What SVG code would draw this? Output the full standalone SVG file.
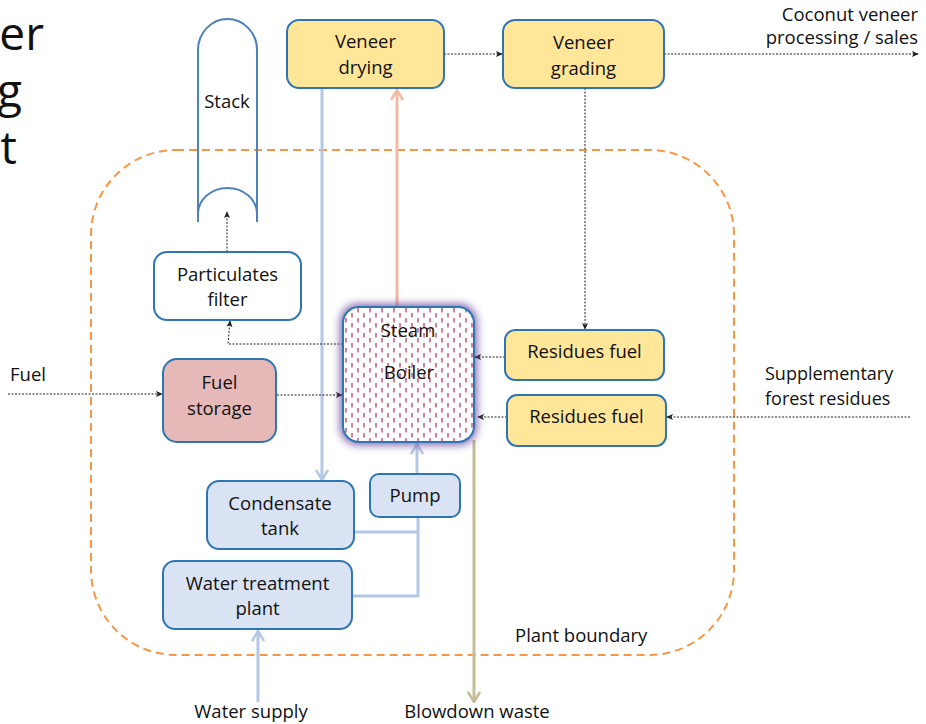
<svg xmlns="http://www.w3.org/2000/svg" width="926" height="724" viewBox="0 0 926 724">
<defs>
<style>
text{font-family:"Open Sans","Noto Sans","DejaVu Sans",sans-serif;font-size:18.5px;fill:#111;}
.c{text-anchor:middle;}
.title{font-size:46px;text-anchor:end;}
.box{stroke:#2e75b6;stroke-width:2;}
.yel{fill:#ffe699;}
.lb{fill:#dae3f3;}
.dot{fill:none;stroke:#222;stroke-width:1;stroke-dasharray:2 1.5;marker-end:url(#ah);}
.thick{fill:none;stroke-width:3;}
.blue{stroke:#b4c7e7;}
</style>
<marker id="ah" viewBox="0 0 8 8" refX="7" refY="4" markerWidth="7" markerHeight="7" markerUnits="userSpaceOnUse" orient="auto">
<path d="M0,0.5 L8,4 L0,7.5 L2,4 Z" fill="#222"/>
</marker>
<marker id="ob" viewBox="0 0 12 14" refX="11" refY="7" markerWidth="12" markerHeight="14" markerUnits="userSpaceOnUse" orient="auto">
<path d="M1,1 L11,7 L1,13" fill="none" stroke="#b4c7e7" stroke-width="2.5"/>
</marker>
<marker id="os" viewBox="0 0 12 14" refX="11" refY="7" markerWidth="12" markerHeight="14" markerUnits="userSpaceOnUse" orient="auto">
<path d="M1,1 L11,7 L1,13" fill="none" stroke="#f4b8a0" stroke-width="2.5"/>
</marker>
<marker id="ok" viewBox="0 0 12 14" refX="11" refY="7" markerWidth="12" markerHeight="14" markerUnits="userSpaceOnUse" orient="auto">
<path d="M1,1 L11,7 L1,13" fill="none" stroke="#c4bd97" stroke-width="2.5"/>
</marker>
<pattern id="dash" patternUnits="userSpaceOnUse" x="343" y="307" width="12" height="10">
<rect width="12" height="10" fill="#fff"/>
<line x1="3" y1="1" x2="3" y2="5.5" stroke="#b5406a" stroke-width="1.3"/>
<line x1="9" y1="6" x2="9" y2="10.5" stroke="#b5406a" stroke-width="1.3"/>
<line x1="9" y1="-4" x2="9" y2="0.5" stroke="#b5406a" stroke-width="1.3"/>
</pattern>
<filter id="glow" x="-20%" y="-20%" width="140%" height="140%">
<feGaussianBlur stdDeviation="4"/>
</filter>
</defs>

<g id="title">
<text class="title" x="44" y="50">eer</text>
<text class="title" x="22" y="107">g</text>
<text class="title" x="17" y="164">t</text>
</g>

<g id="boundary">
<rect x="91" y="150" width="643" height="505" rx="85" ry="85" fill="none" stroke="#f79646" stroke-width="2" stroke-dasharray="8 5"/>
<text x="515" y="642">Plant boundary</text>
</g>

<g id="connectors">
<line class="thick blue" x1="322" y1="88" x2="322" y2="480" marker-end="url(#ob)"/>
<line class="thick" stroke="#f4b8a0" x1="397" y1="307" x2="397" y2="90" marker-end="url(#os)"/>
<polyline class="thick blue" points="352,596 418,596 418,474"/>
<line class="thick blue" x1="354" y1="532" x2="419" y2="532"/>
<line class="thick blue" x1="417" y1="474" x2="417" y2="444" marker-end="url(#ob)"/>
<line class="thick blue" x1="258" y1="702" x2="258" y2="631" marker-end="url(#ob)"/>
<line class="thick" stroke="#c4bd97" x1="474" y1="440" x2="474" y2="702" marker-end="url(#ok)"/>
<line class="dot" x1="8" y1="394" x2="162" y2="394"/>
<line class="dot" x1="277" y1="395" x2="342" y2="395"/>
<polyline class="dot" points="343,344 228,344 230,321"/>
<line class="dot" x1="227" y1="252" x2="227" y2="212"/>
<line class="dot" x1="444" y1="54" x2="502" y2="54"/>
<line class="dot" x1="664" y1="54" x2="918" y2="54"/>
<line class="dot" x1="585" y1="88" x2="585" y2="329"/>
<line class="dot" x1="505" y1="357" x2="475" y2="357"/>
<line class="dot" x1="910" y1="417" x2="667" y2="417"/>
<line class="dot" x1="507" y1="417" x2="478" y2="417"/>
</g>

<g id="stack">
<path d="M198,222 L198,50 A29.5,31 0 0 1 257,50 L257,222" fill="none" stroke="#4f81bd" stroke-width="2"/>
<path d="M198,214 A29.5,26 0 0 1 257,214" fill="none" stroke="#4f81bd" stroke-width="2"/>
<text class="c" x="227" y="108">Stack</text>
</g>

<g id="veneer-drying">
<rect class="box yel" x="287" y="20" width="157" height="68" rx="12"/>
<text class="c" x="365.5" y="48">Veneer</text>
<text class="c" x="365.5" y="74">drying</text>
</g>

<g id="veneer-grading">
<rect class="box yel" x="503" y="20" width="161" height="68" rx="12"/>
<text class="c" x="583.5" y="49">Veneer</text>
<text class="c" x="583.5" y="75">grading</text>
</g>

<g id="coconut-out">
<text x="918" y="21" text-anchor="end">Coconut veneer</text>
<text x="918" y="44" text-anchor="end">processing / sales</text>
</g>

<g id="particulates-filter">
<rect class="box" fill="#fff" x="154" y="252" width="147" height="68" rx="13"/>
<text class="c" x="227.5" y="281">Particulates</text>
<text class="c" x="227.5" y="306">filter</text>
</g>

<g id="fuel-label">
<text x="10" y="381">Fuel</text>
</g>

<g id="fuel-storage">
<rect class="box" fill="#e6b9b8" x="163" y="359" width="113" height="83" rx="14"/>
<text class="c" x="219.5" y="389">Fuel</text>
<text class="c" x="219.5" y="415">storage</text>
</g>

<g id="steam-boiler">
<rect x="340" y="304" width="137" height="141" rx="18" fill="#6a4a9c" opacity="0.85" filter="url(#glow)"/>
<rect class="box" fill="url(#dash)" x="343" y="307" width="131" height="135" rx="16"/>
<text class="c" x="408" y="337">Steam</text>
<text class="c" x="409" y="379">Boiler</text>
</g>

<g id="residues-fuel-1">
<rect class="box yel" x="505" y="330" width="159" height="50" rx="10"/>
<text class="c" x="584.5" y="358">Residues fuel</text>
</g>

<g id="residues-fuel-2">
<rect class="box yel" x="507" y="395" width="159" height="51" rx="10"/>
<text class="c" x="586.5" y="423">Residues fuel</text>
</g>

<g id="supplementary" style="font-size:18px">
<text x="765" y="380" style="font-size:18px">Supplementary</text>
<text x="765" y="405" style="font-size:18px">forest residues</text>
</g>

<g id="condensate-tank">
<rect class="box lb" x="207" y="481" width="147" height="68" rx="12"/>
<text class="c" x="280" y="510">Condensate</text>
<text class="c" x="280" y="535">tank</text>
</g>

<g id="pump">
<rect class="box lb" x="370" y="474" width="90" height="43" rx="9"/>
<text class="c" x="415" y="502">Pump</text>
</g>

<g id="water-treatment">
<rect class="box lb" x="163" y="561" width="189" height="68" rx="12"/>
<text class="c" x="257.5" y="590">Water treatment</text>
<text class="c" x="257.5" y="615">plant</text>
</g>

<g id="outputs">
<text class="c" x="251" y="718">Water supply</text>
<text class="c" x="477" y="718">Blowdown waste</text>
</g>
</svg>
